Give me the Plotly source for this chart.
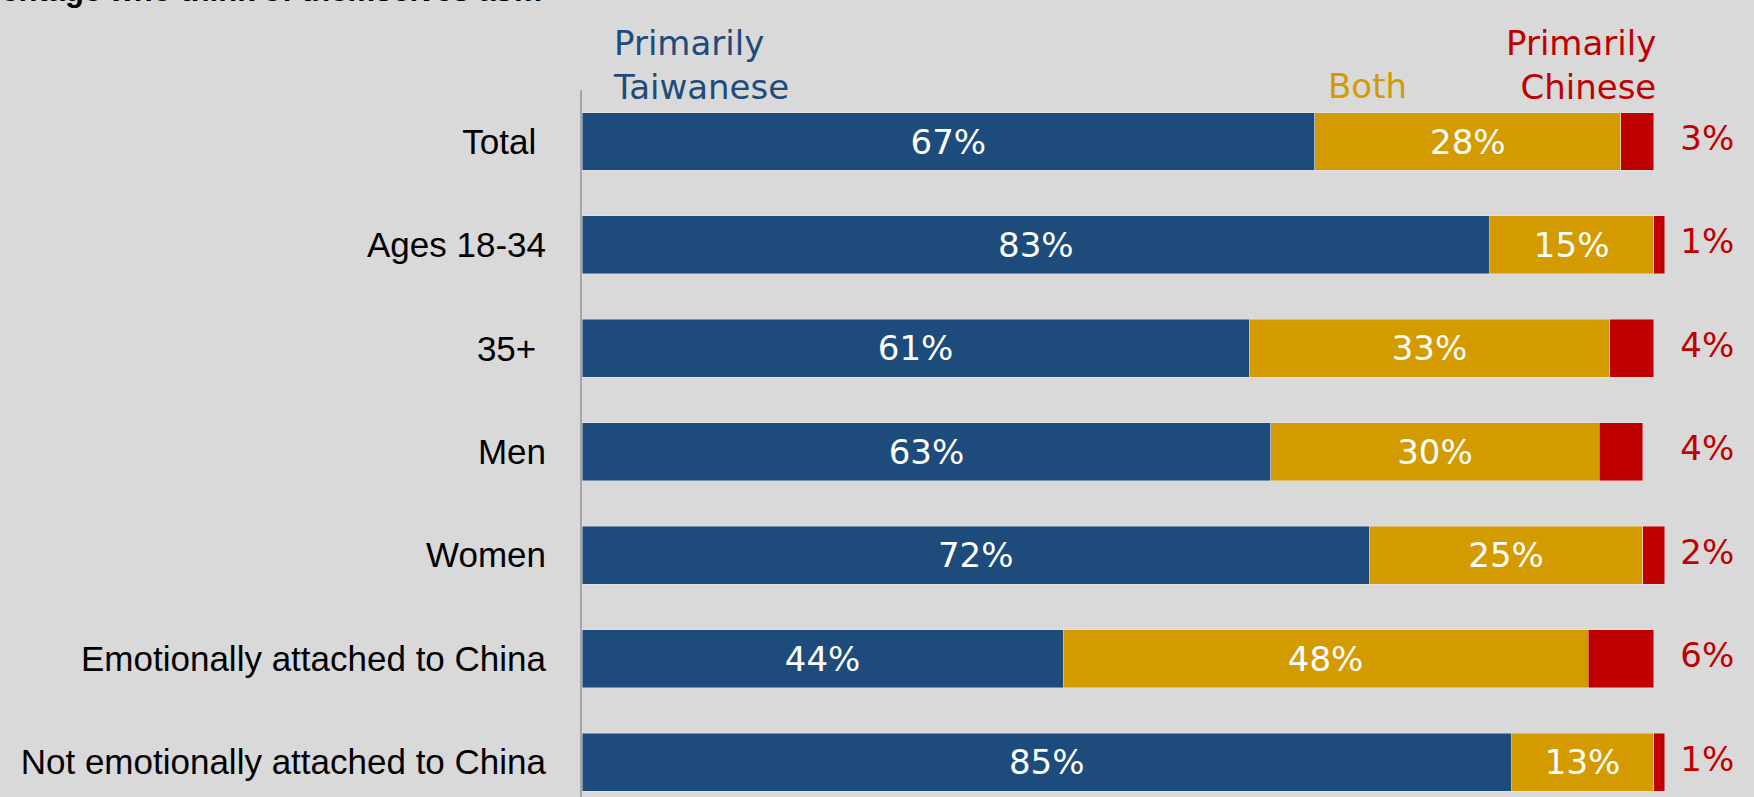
import plotly.graph_objects as go

categories = ["Total\u00a0", "Ages 18-34", "35+\u00a0", "Men", "Women",
              "Emotionally attached to China", "Not emotionally attached to China"]
taiwanese = [67, 83, 61, 63, 72, 44, 85]
both = [28, 15, 33, 30, 25, 48, 13]
chinese = [3, 1, 4, 4, 2, 6, 1]

BLUE = "#1d4c7c"
GOLD = "#d39b00"
RED = "#c00000"
BG = "#d9d9d9"
PCT_FONT = "DejaVu Sans"
CAT_FONT = "Liberation Sans"

idx = list(range(len(categories)))
edge = dict(color="rgba(235,235,235,0.55)", width=0.8)

fig = go.Figure()
fig.add_trace(go.Bar(
    y=idx, x=taiwanese, orientation="h", width=0.56, marker=dict(color=BLUE, line=edge),
    text=[f"{v}%" for v in taiwanese], textposition="inside", insidetextanchor="middle",
    textangle=0, textfont=dict(family=PCT_FONT, size=34, color="white"), hoverinfo="skip"))
fig.add_trace(go.Bar(
    y=idx, x=both, orientation="h", width=0.56, marker=dict(color=GOLD, line=edge),
    text=[f"{v}%" for v in both], textposition="inside", insidetextanchor="middle",
    textangle=0, textfont=dict(family=PCT_FONT, size=34, color="white"), hoverinfo="skip"))
fig.add_trace(go.Bar(
    y=idx, x=chinese, orientation="h", width=0.56, marker=dict(color=RED, line=edge),
    textposition="none", hoverinfo="skip"))
fig.add_trace(go.Scatter(
    y=idx, x=[102.9] * len(idx), mode="text", text=[f"{v}%" for v in chinese],
    textposition="middle center", cliponaxis=False,
    textfont=dict(family=PCT_FONT, size=34, color=RED), hoverinfo="skip"))

fig.update_layout(
    width=1754, height=797, barmode="stack", showlegend=False,
    paper_bgcolor=BG, plot_bgcolor=BG,
    margin=dict(l=582, r=3, t=90, b=0, pad=0),
    xaxis=dict(range=[0, 106.9], visible=False, fixedrange=True),
    yaxis=dict(range=[6.338, -0.498], tickvals=idx, ticktext=categories,
               showline=True, linecolor="#a6a6a6", linewidth=2, ticks="",
               showgrid=False, zeroline=False, ticklabelstandoff=27, fixedrange=True,
               tickfont=dict(family=CAT_FONT, size=35, color="black")),
)

hdr = dict(family=PCT_FONT, size=34)
fig.add_annotation(xref="x", yref="paper", x=2.65, y=1.0347, xanchor="left", yanchor="middle",
                   align="left", text="Primarily<br>Taiwanese", showarrow=False,
                   font=dict(color=BLUE, **hdr))
fig.add_annotation(xref="x", yref="paper", x=68.0, y=1.0057, xanchor="left", yanchor="middle",
                   align="left", text="Both", showarrow=False, font=dict(color=GOLD, **hdr))
fig.add_annotation(xref="x", yref="paper", x=98.4, y=1.0347, xanchor="right", yanchor="middle",
                   align="right", text="Primarily<br>Chinese", showarrow=False,
                   font=dict(color=RED, **hdr))
fig.add_annotation(xref="paper", yref="paper", x=-0.0308, y=1.141, xanchor="right", yanchor="middle",
                   text="<b>Percentage who think of themselves as…</b>", showarrow=False,
                   font=dict(family=CAT_FONT, size=31, color="black"))

fig.write_html("out.html", config={"displayModeBar": False},
               post_script="document.body.style.margin='0';document.body.style.background='#d9d9d9';")
